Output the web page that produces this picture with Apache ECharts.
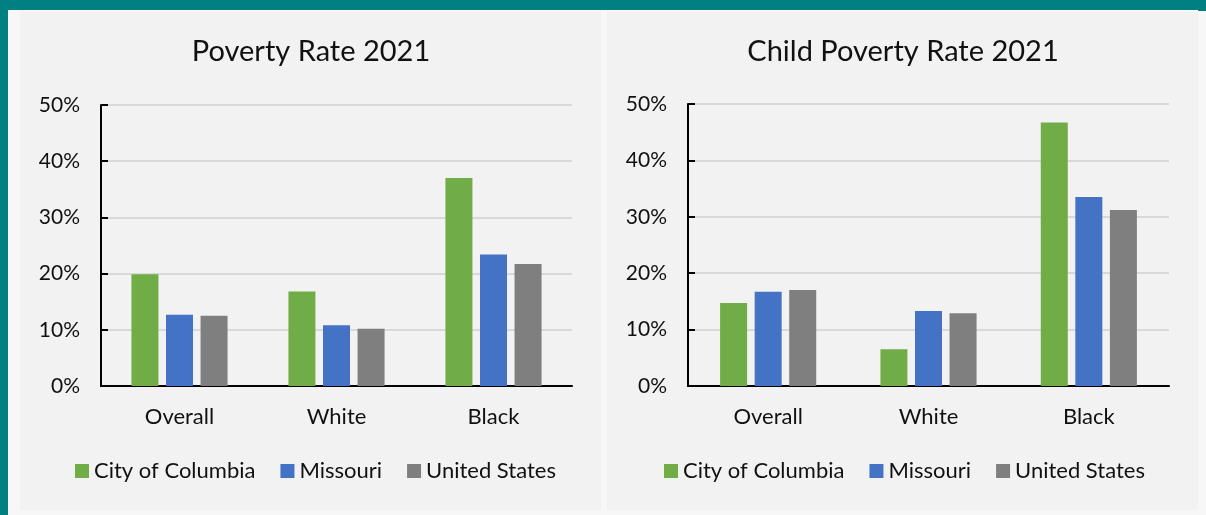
<!DOCTYPE html>
<html>
<head>
<meta charset="utf-8">
<script src="https://cdn.jsdelivr.net/npm/echarts@6/dist/echarts.min.js"></script>
<style>
  html, body { margin: 0; padding: 0; background: #f7f7f7; }
</style>
</head>
<body>
<div id="chart" style="width:1206px;height:515px;"></div>
<script>
// data
var categories = ['Overall', 'White', 'Black'];
var seriesNames = ['City of Columbia', 'Missouri', 'United States'];
var titles = ['Poverty Rate 2021', 'Child Poverty Rate 2021'];

var povertyColumbia = [19.9, 16.8, 37.0];
var povertyMissouri = [12.7, 10.8, 23.4];
var povertyUS = [12.5, 10.2, 21.7];

var childColumbia = [14.7, 6.5, 46.7];
var childMissouri = [16.7, 13.3, 33.5];
var childUS = [17.0, 12.9, 31.2];

var colors = ['#70ad47', '#4472c4', '#7f7f7f'];
var font = 'Lato, "Open Sans", sans-serif';

var myChart = echarts.init(document.getElementById('chart'));

function yAxisFor(idx) {
    return {
        type: 'value',
        gridIndex: idx,
        min: 0,
        max: 50,
        interval: 10,
        axisLine: { show: true, lineStyle: { color: '#000', width: 2 } },
        axisTick: { show: true, inside: true, length: 7, lineStyle: { color: '#000', width: 2 } },
        axisLabel: { formatter: '{value}%', color: '#111', fontSize: 21, fontFamily: font, margin: 21 },
        splitLine: { lineStyle: { color: '#d9d9d9', width: 2 } }
    };
}

function xAxisFor(idx) {
    return {
        type: 'category',
        gridIndex: idx,
        data: categories,
        axisLine: { lineStyle: { color: '#000', width: 2 } },
        axisTick: { show: false },
        axisLabel: { color: '#111', fontSize: 22, fontFamily: font, margin: 20 }
    };
}

function barSeries(name, data, idx, color) {
    return {
        name: name,
        type: 'bar',
        xAxisIndex: idx,
        yAxisIndex: idx,
        data: data,
        barWidth: 27,
        barGap: '28%',
        itemStyle: { color: color }
    };
}

var option = {
    animation: false,
    color: colors,
    graphic: [
        { type: 'rect', z: -10, silent: true, shape: { x: 0, y: 0, width: 1206, height: 10 }, style: { fill: '#008080' } },
        { type: 'rect', z: -10, silent: true, shape: { x: 0, y: 0, width: 8, height: 515 }, style: { fill: '#008080' } },
        { type: 'rect', z: -10, silent: true, shape: { x: 1198, y: 0, width: 8, height: 11 }, style: { fill: '#008080' } },
        { type: 'rect', z: -10, silent: true, shape: { x: 20, y: 11, width: 581, height: 499 }, style: { fill: '#f2f2f2' } },
        { type: 'rect', z: -10, silent: true, shape: { x: 607, y: 11, width: 591, height: 499 }, style: { fill: '#f2f2f2' } }
    ],
    title: [
        {
            text: titles[0],
            left: 306, top: 32, textAlign: 'center',
            textStyle: { fontSize: 29, fontWeight: 'normal', color: '#111', fontFamily: font }
        },
        {
            text: titles[1],
            left: 898, top: 32, textAlign: 'center',
            textStyle: { fontSize: 29, fontWeight: 'normal', color: '#111', fontFamily: font }
        }
    ],
    legend: [
        {
            data: seriesNames,
            left: 70, top: 455,
            itemWidth: 14, itemHeight: 14, itemGap: 25,
            icon: 'rect',
            textStyle: { fontSize: 22, color: '#111', fontFamily: font }
        },
        {
            data: seriesNames,
            left: 659, top: 455,
            itemWidth: 14, itemHeight: 14, itemGap: 25,
            icon: 'rect',
            textStyle: { fontSize: 22, color: '#111', fontFamily: font }
        }
    ],
    grid: [
        { left: 101, top: 105, width: 471, height: 281 },
        { left: 688, top: 104, width: 481, height: 282 }
    ],
    xAxis: [xAxisFor(0), xAxisFor(1)],
    yAxis: [yAxisFor(0), yAxisFor(1)],
    series: [
        barSeries(seriesNames[0], povertyColumbia, 0, colors[0]),
        barSeries(seriesNames[1], povertyMissouri, 0, colors[1]),
        barSeries(seriesNames[2], povertyUS, 0, colors[2]),
        barSeries(seriesNames[0], childColumbia, 1, colors[0]),
        barSeries(seriesNames[1], childMissouri, 1, colors[1]),
        barSeries(seriesNames[2], childUS, 1, colors[2])
    ]
};

myChart.setOption(option);
</script>
</body>
</html>
